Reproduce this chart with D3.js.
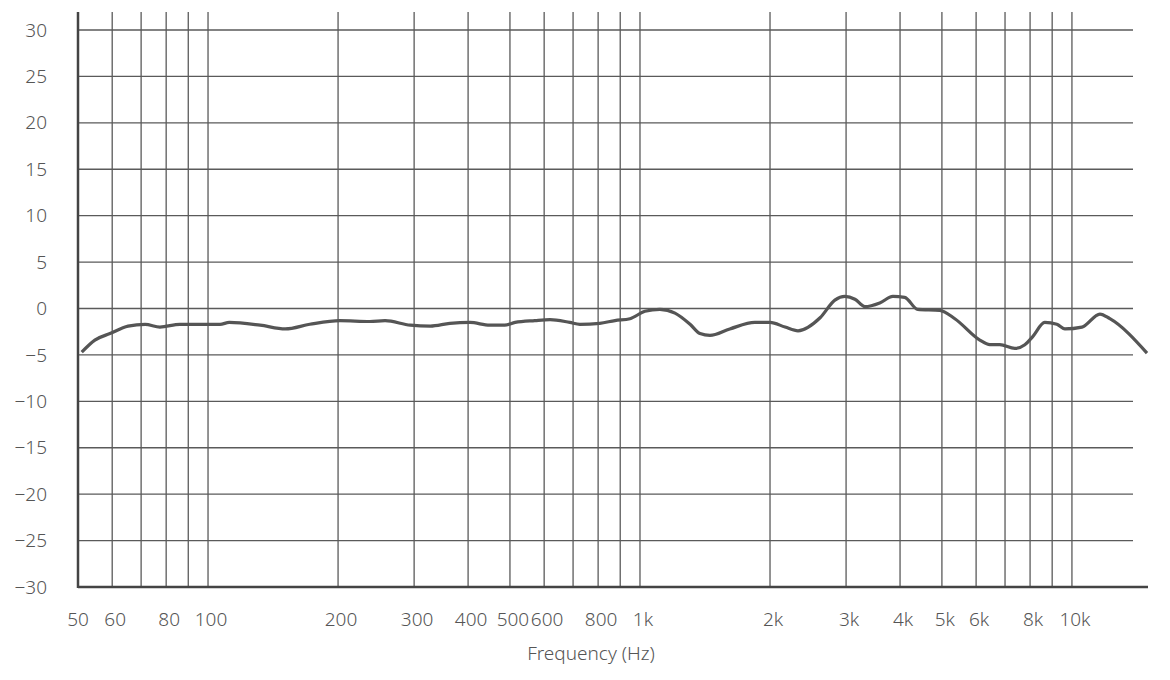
<!DOCTYPE html>
<html>
<head>
<meta charset="utf-8">
<script src="https://cdn.jsdelivr.net/npm/d3@7"></script>
<style>
  body { margin: 0; background: #fff; }
  text { font-family: "Noto Sans", "Open Sans", sans-serif; font-weight: 300; fill: #555; }
</style>
</head>
<body>
<div id="chart"></div>
<script>
// frequency response
var freqs = [51, 54.7, 59.3, 65.3, 71.5, 77.4, 86.1, 106.6, 112, 132, 151, 172, 202, 237, 257, 294, 327, 363,
  404, 449, 486, 514, 571, 619, 688, 726, 807, 875, 948, 1027, 1112, 1205, 1306, 1377, 1452, 1614, 1845,
  2000, 2167, 2322, 2612, 2826, 2981, 3145, 3318, 3590, 3850, 4100, 4395, 4942, 5357, 6120, 6455, 6808,
  7375, 7780, 8123, 8650, 9228, 9630, 10550, 11610, 12240, 14920];
var levels = [-4.7, -3.4, -2.7, -1.9, -1.7, -2.0, -1.7, -1.7, -1.5, -1.8, -2.2, -1.7, -1.3, -1.4, -1.3, -1.8, -1.9, -1.6,
  -1.5, -1.8, -1.8, -1.5, -1.3, -1.2, -1.5, -1.7, -1.6, -1.3, -1.1, -0.3, -0.1, -0.5, -1.7, -2.7, -2.9, -2.2, -1.5,
  -1.5, -2.0, -2.4, -1.0, 0.9, 1.3, 1.0, 0.2, 0.6, 1.3, 1.2, -0.1, -0.2, -1.1, -3.4, -3.9, -3.9,
  -4.3, -3.9, -3.0, -1.5, -1.7, -2.2, -2.0, -0.6, -1.1, -4.8];

var gridFreqs = [60, 70, 80, 90, 100, 200, 300, 400, 500, 600, 700, 800, 900, 1000,
  2000, 3000, 4000, 5000, 6000, 7000, 8000, 9000, 10000];
var tickFreqs = [50, 60, 80, 100, 200, 300, 400, 500, 600, 800, 1000, 2000, 3000, 4000, 5000, 6000, 8000, 10000];
var yTicks = [30, 25, 20, 15, 10, 5, 0, -5, -10, -15, -20, -25, -30];

var width = 1170, height = 680;
var svg = d3.select("#chart").append("svg").attr("width", width).attr("height", height);

var x = d3.scaleLog().domain([50, 15000]).range([78, 1148]);
var y = d3.scaleLinear().domain([-30, 30]).range([587, 30]);
var gridColor = "#5a5a5a";

// horizontal grid
svg.append("g").selectAll("line").data(yTicks).enter().append("line")
  .attr("x1", x(50)).attr("x2", 1133)
  .attr("y1", function(d) { return y(d); }).attr("y2", function(d) { return y(d); })
  .attr("stroke", gridColor).attr("stroke-width", 1.3);

// vertical grid
svg.append("g").selectAll("line").data(gridFreqs).enter().append("line")
  .attr("x1", function(d) { return x(d); }).attr("x2", function(d) { return x(d); })
  .attr("y1", 12).attr("y2", y(-30))
  .attr("stroke", gridColor).attr("stroke-width", 1.3);

// axes lines
svg.append("line").attr("x1", x(50)).attr("x2", x(50)).attr("y1", 12).attr("y2", y(-30) + 1)
  .attr("stroke", "#444").attr("stroke-width", 2.5);
svg.append("line").attr("x1", x(50)).attr("x2", 1148).attr("y1", y(-30)).attr("y2", y(-30))
  .attr("stroke", "#444").attr("stroke-width", 2.5);

// y labels
svg.append("g").selectAll("text").data(yTicks).enter().append("text")
  .attr("x", 47).attr("y", function(d) { return y(d); }).attr("dy", "0.35em")
  .attr("text-anchor", "end").style("font-size", "19px")
  .text(function(d) { return d < 0 ? "\u2212" + Math.abs(d) : d; });

// x labels
var fmt = function(d) { return d >= 1000 ? (d / 1000) + "k" : d; };
svg.append("g").selectAll("text").data(tickFreqs).enter().append("text")
  .attr("x", function(d) { return x(d) + (d === 50 ? 0 : 3); }).attr("y", 626)
  .attr("text-anchor", "middle").style("font-size", "19px")
  .text(fmt);

svg.append("text").attr("x", 591).attr("y", 660).attr("text-anchor", "middle")
  .style("font-size", "19px").text("Frequency (Hz)");

// response curve
var line = d3.line()
  .x(function(d, i) { return x(freqs[i]); })
  .y(function(d) { return y(d); })
  .curve(d3.curveMonotoneX);
svg.append("path").datum(levels).attr("d", line)
  .attr("fill", "none").attr("stroke", "#555").attr("stroke-width", 3.2)
  .attr("stroke-linejoin", "round");
</script>
</body>
</html>
